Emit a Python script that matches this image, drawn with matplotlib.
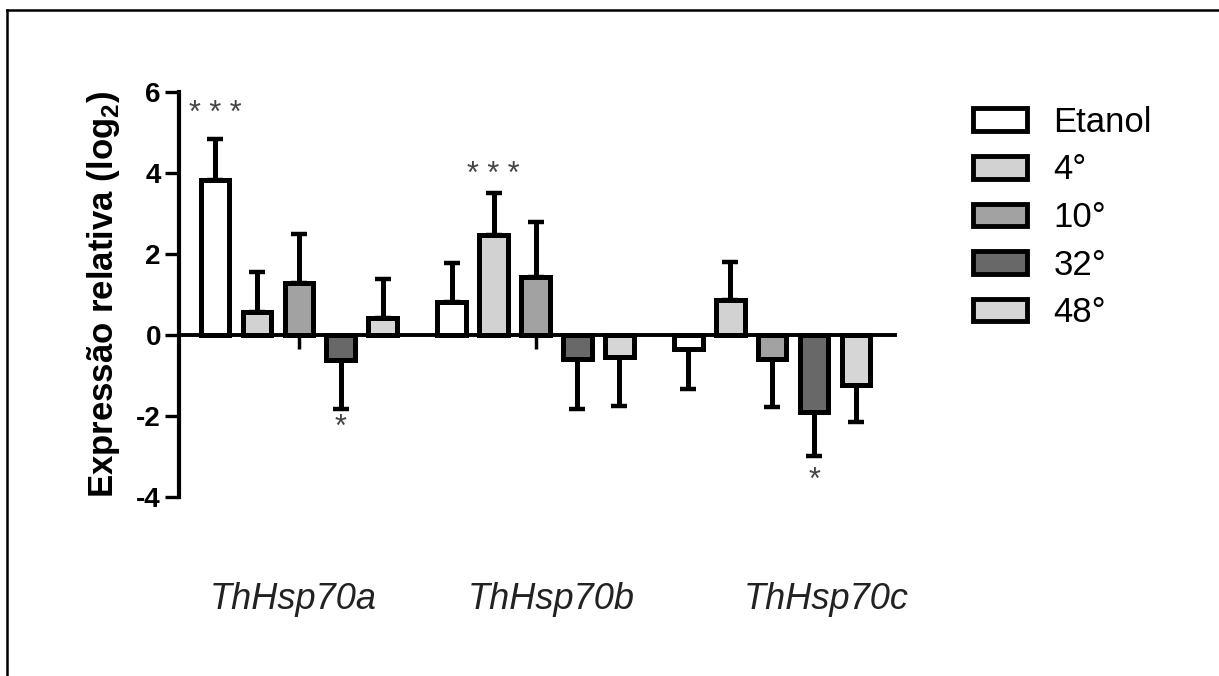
import numpy as np
import matplotlib
matplotlib.use("Agg")
import matplotlib.pyplot as plt
from matplotlib.lines import Line2D
from matplotlib.patches import Patch

plt.rcParams['font.family'] = ['Liberation Sans', 'DejaVu Sans']
plt.rcParams['mathtext.fontset'] = 'custom'
plt.rcParams['mathtext.rm'] = 'Liberation Sans'
plt.rcParams['mathtext.bf'] = 'Liberation Sans:bold'

# data (log2 relative expression, mean and sd)
genes = ['ThHsp70a', 'ThHsp70b', 'ThHsp70c']
treatments = ['Etanol', '4°', '10°', '32°', '48°']
colors = ['#ffffff', '#d2d2d2', '#a2a2a2', '#686868', '#d6d6d6']

means = np.array([
    [3.83, 0.58, 1.29, -0.62, 0.42],
    [0.82, 2.47, 1.44, -0.60, -0.55],
    [-0.35, 0.86, -0.59, -1.89, -1.23],
])
errs = np.array([
    [1.01, 0.97, 1.20, 1.21, 0.96],
    [0.95, 1.03, 1.36, 1.23, 1.20],
    [0.98, 0.95, 1.19, 1.10, 0.91],
])

# significance marks: (gene index, treatment index, label, y)
signif = [(0, 0, '* * *', 5.45), (0, 3, '*', -2.3), (1, 1, '* * *', 3.95), (2, 3, '*', -3.6)]

gap = 0.65
width = 0.68
nt = len(treatments)

fig = plt.figure(figsize=(12.19, 6.76), dpi=100)
ax = fig.add_axes([0.1468, 0.2648, 0.5874, 0.5991])

for j in range(nt):
    xs = np.arange(len(genes)) * (nt + gap) + j
    vals = means[:, j]
    e = errs[:, j]
    lower = np.where(vals < 0, e, 0)
    upper = np.where(vals > 0, e, 0)
    ax.errorbar(xs, vals, yerr=[lower, upper], fmt='none', ecolor='black',
                elinewidth=3.6, capsize=5.5, capthick=3.2, zorder=1)
    ax.bar(xs, vals, width=width, color=colors[j], edgecolor='black',
           linewidth=3.6, label=treatments[j], zorder=2)

for g, j, s, y in signif:
    ax.text(g * (nt + gap) + j, y, s, ha='center', va='center',
            fontsize=22, color='#444444')

centers = np.arange(len(genes)) * (nt + gap) + (nt - 1) / 2
ax.set_xticks(centers)
ax.set_xticklabels([])
ax.tick_params(axis='x', direction='out', length=10, width=2.5)

# gene names sit low under the plot, not centred on the groups
label_x = [1.86, 8.02, 14.58]
for x, name in zip(label_x, genes):
    ax.text(x, -0.252, name, transform=ax.get_xaxis_transform(),
            ha='center', va='center', fontsize=26, style='italic', color='#222222')

ax.set_xlim(-0.86, 16.23)
ax.set_ylim(-4, 6)
ax.set_yticks([-4, -2, 0, 2, 4, 6])
ax.set_yticklabels(['-4', '-2', '0', '2', '4', '6'])
ax.tick_params(axis='y', direction='out', length=10, width=2.4, labelsize=20, pad=3)
for lab in ax.get_yticklabels():
    lab.set_fontweight('bold')

ax.spines['top'].set_visible(False)
ax.spines['right'].set_visible(False)
ax.spines['bottom'].set_position(('data', 0))
ax.spines['bottom'].set_linewidth(2.8)
ax.spines['left'].set_linewidth(3.0)

ax.set_ylabel(r'Expressão relativa (log$_\mathbf{2}$)', fontsize=25,
              fontweight='bold', labelpad=10)

handles = [Patch(facecolor=c, edgecolor='black', linewidth=3.5) for c in colors]
ax.legend(handles, treatments, loc='upper left', bbox_to_anchor=(1.09, 1.0),
          frameon=False, fontsize=25, handlelength=1.55, handleheight=0.62,
          handletextpad=0.75, labelspacing=0.42, borderaxespad=0)

# image frame (top and left edges)
fig.add_artist(Line2D([0.0057, 0.0057], [0, 0.985], transform=fig.transFigure,
                      color='black', linewidth=1.8))
fig.add_artist(Line2D([0.0057, 1.0], [0.985, 0.985], transform=fig.transFigure,
                      color='black', linewidth=1.8))

fig.savefig('out.png', dpi=100)
